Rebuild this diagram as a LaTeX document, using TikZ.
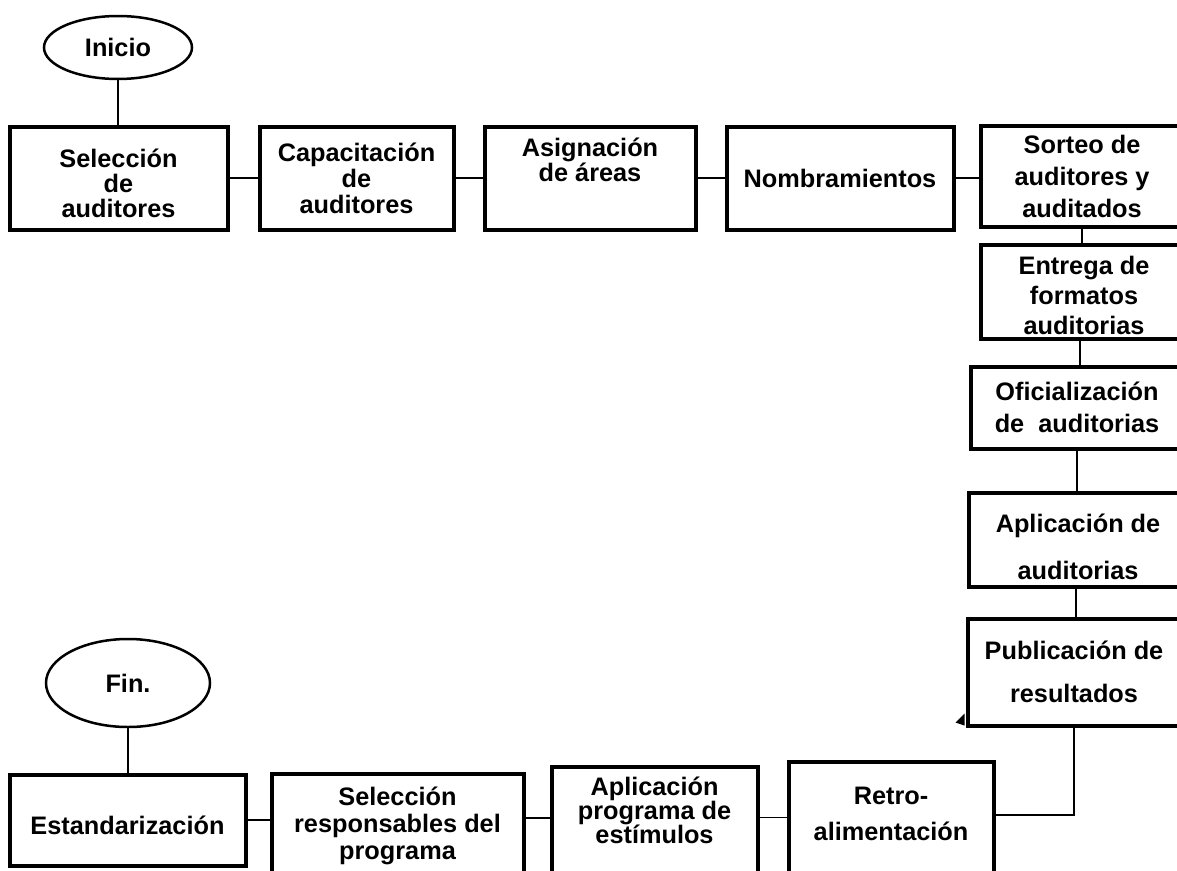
\documentclass[tikz,border=0pt]{standalone}
\usepackage{fontspec}
\setmainfont{Liberation Sans}
\usetikzlibrary{shapes.geometric}

\begin{document}
\begin{tikzpicture}[
    x=1pt, y=-1pt,
    box/.style={draw, rectangle, line width=4pt, inner sep=0pt, align=center,
      font=\fontsize{25.3}{28}\selectfont\bfseries},
    term/.style={draw, ellipse, line width=2.5pt, inner sep=0pt,
      font=\fontsize{25.3}{28}\selectfont\bfseries},
    link/.style={line width=1.5pt}
  ]

  \useasboundingbox (0,0) rectangle (1177,870);
  \clip (0,0) rectangle (1177,870);

  % top row
  \node[term, minimum width=148pt, minimum height=63pt] (inicio) at (118,47.5) {Inicio};
  \node[box, minimum width=218pt, minimum height=103pt] (sel) at (118.5,178) {Selección\\[-3pt] de\\[-3pt] auditores\\[-38pt] \mbox{}};
  \node[box, minimum width=194pt, minimum height=103pt] (cap) at (356.5,178) {Capacitación\\[-2pt] de\\[-2pt] auditores};
  \node[box, minimum width=211pt, minimum height=103pt] (asig) at (590,178) {Asignación\\[-3pt] de áreas\\[9pt] \mbox{}};
  \node[box, minimum width=227pt, minimum height=103pt] (nomb) at (840,178) {Nombramientos};
  \node[box, minimum width=203pt, minimum height=101pt] (sorteo) at (1082,176) {Sorteo de\\[4pt] auditores y\\[4pt] auditados};

  % right column
  \node[box, minimum width=207pt, minimum height=94pt] (entrega) at (1084,291.5) {Entrega de\\[2pt] formatos\\[2pt] auditorias\\[-36pt] \mbox{}};
  \node[box, minimum width=213pt, minimum height=82pt] (ofic) at (1077,407.5) {Oficialización\\[4pt] de~ auditorias};
  \node[box, minimum width=219pt, minimum height=94pt] (aplaud) at (1078,539.5) {Aplicación de\\[19pt] auditorias\\[-42pt] \mbox{}};
  \node[box, minimum width=213pt, minimum height=107pt] (publ) at (1074,672) {Publicación de\\[15pt] resultados};

  % bottom row
  \node[term, minimum width=164pt, minimum height=88pt] (fin) at (128,683) {Fin.};
  \node[box, minimum width=236pt, minimum height=91pt] (estand) at (127.5,820) {Estandarización\\[-38pt] \mbox{}};
  \node[box, minimum width=252pt, minimum height=105pt] (selresp) at (397.5,826) {Selección\\[-1pt] responsables del\\[-1pt] programa};
  \node[box, minimum width=206pt, minimum height=112pt] (aplprog) at (654.5,822.5) {Aplicación\\[-4pt] programa de\\[-4pt] estímulos\\[-4pt] \mbox{}};
  \node[box, minimum width=205pt, minimum height=117pt] (retro) at (891,820) {Retro-\\[8pt] alimentación\\[-15pt] \mbox{}};

  % connectors
  \draw[link] (inicio.south) -- (inicio.south |- sel.north);
  \draw[link] (sel.east) -- (sel.east -| cap.west);
  \draw[link] (cap.east) -- (cap.east -| asig.west);
  \draw[link] (asig.east) -- (asig.east -| nomb.west);
  \draw[link] (nomb.east) -- (nomb.east -| sorteo.west);
  \draw[link] (sorteo.south) -- (sorteo.south |- entrega.north);
  \draw[link] ([xshift=-4pt]entrega.south) -- ([xshift=-4pt]entrega.south |- ofic.north);
  \draw[link] (ofic.south) -- (ofic.south |- aplaud.north);
  \draw[link] ([xshift=-2pt]aplaud.south) -- ([xshift=-2pt]aplaud.south |- publ.north);
  \draw[link] (publ.south) |- ([yshift=5pt]retro.east);
  \draw[link] ([yshift=5pt]aplprog.east) -- ([yshift=5pt]aplprog.east -| retro.west);
  \draw[link] ([yshift=8pt]selresp.east) -- ([yshift=8pt]selresp.east -| aplprog.west);
  \draw[link] (estand.east) -- (estand.east -| selresp.west);
  \draw[link] (fin.south) -- (fin.south |- estand.north);

  \fill ([xshift=-10pt,yshift=5pt]publ.south west) -- ([xshift=-1pt,yshift=14pt]publ.south west)
    -- ([xshift=-1pt,yshift=2pt]publ.south west) -- cycle;
\end{tikzpicture}
\end{document}
